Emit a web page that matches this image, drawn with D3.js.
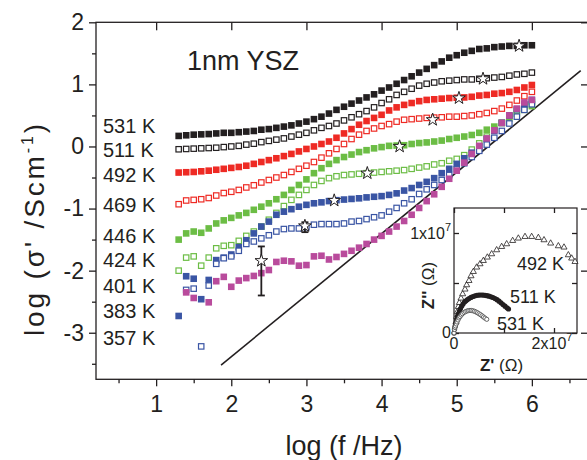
<!DOCTYPE html>
<html><head><meta charset="utf-8">
<script src="https://cdn.jsdelivr.net/npm/d3@7"></script>
<style>
body{margin:0;background:#fff}
text{font-family:"Liberation Sans",Arial,Helvetica,sans-serif;fill:#231f20}
</style>
</head><body><svg id="c" width="587" height="460"></svg>
<script>
// ---------- DATA ----------
const logF = [1.3,1.4,1.5,1.6,1.7,1.8,1.9,2.0,2.1,2.2,2.3,2.4,2.5,2.6,2.7,2.8,2.9,3.0,3.1,3.2,3.3,3.4,3.5,3.6,3.7,3.8,3.9,4.0,
              4.1,4.2,4.3,4.4,4.5,4.6,4.7,4.8,4.9,5.0,5.1,5.2,5.3,5.4,5.5,5.6,5.7,5.8,5.9,6.0];
const temps = ["531 K","511 K","492 K","469 K","446 K","424 K","401 K","383 K","357 K"];
const s531 = [0.17,0.18,0.19,0.195,0.20,0.21,0.22,0.22,0.23,0.24,0.25,0.27,0.28,0.30,0.32,0.34,0.37,0.40,0.44,0.48,0.53,0.59,0.64,0.69,0.74,0.79,0.84,0.90,
              0.95,1.01,1.07,1.13,1.19,1.25,1.31,1.37,1.43,1.47,1.51,1.54,1.57,1.58,1.60,1.61,1.62,1.62,1.63,1.63];
const s511 = [-0.045,-0.04,-0.035,-0.03,-0.025,-0.02,-0.01,0.0,0.01,0.03,0.045,0.07,0.09,0.11,0.13,0.16,0.19,0.22,0.26,0.30,0.33,0.37,0.42,0.47,0.52,0.57,0.63,0.70,
              0.76,0.83,0.88,0.93,0.98,1.01,1.03,1.05,1.06,1.07,1.08,1.08,1.09,1.10,1.11,1.12,1.14,1.16,1.17,1.19];
const s492 = [-0.42,-0.415,-0.41,-0.40,-0.39,-0.375,-0.36,-0.345,-0.33,-0.31,-0.28,-0.25,-0.22,-0.19,-0.155,-0.12,-0.08,-0.04,0.0,0.04,0.08,0.14,0.21,0.28,0.35,0.41,0.46,0.51,
              0.58,0.63,0.67,0.70,0.73,0.75,0.76,0.77,0.78,0.785,0.79,0.80,0.82,0.83,0.85,0.86,0.88,0.91,0.95,0.99];
const s469 = [-0.93,-0.87,-0.86,-0.85,-0.83,-0.79,-0.75,-0.73,-0.70,-0.66,-0.625,-0.58,-0.54,-0.50,-0.46,-0.41,-0.36,-0.31,-0.25,-0.18,-0.11,-0.04,0.04,0.12,0.19,0.25,0.29,0.33,
              0.36,0.40,0.43,0.44,0.45,0.46,0.465,0.47,0.48,0.48,0.49,0.50,0.52,0.54,0.57,0.61,0.67,0.74,0.81,0.88];
const s446 = [-1.50,-1.40,-1.37,-1.39,-1.32,-1.24,-1.19,-1.15,-1.11,-1.07,-1.02,-0.97,-0.915,-0.85,-0.78,-0.70,-0.62,-0.53,-0.43,-0.35,-0.28,-0.22,-0.17,-0.13,-0.09,-0.06,-0.03,-0.01,
              0.01,0.015,0.02,0.04,0.055,0.065,0.08,0.095,0.12,0.14,0.16,0.185,0.22,0.27,0.32,0.38,0.45,0.53,0.59,0.65];
const s424 = [-2.0,-1.79,-1.77,-1.92,-1.79,-1.64,-1.60,-1.59,-1.52,-1.44,-1.37,-1.29,-1.18,-1.07,-0.96,-0.86,-0.78,-0.70,-0.62,-0.555,-0.51,-0.48,-0.46,-0.45,-0.44,-0.43,-0.42,-0.41,
              -0.40,-0.39,-0.38,-0.36,-0.34,-0.32,-0.29,-0.27,-0.23,-0.20,-0.14,-0.05,0.05,0.16,0.27,0.38,0.49,0.58,0.66,0.72];
const s401 = [-2.73,-2.09,-2.13,-2.46,-2.15,-1.83,-1.79,-1.74,-1.62,-1.51,-1.40,-1.29,-1.21,-1.10,-1.05,-1.01,-0.97,-0.94,-0.915,-0.90,-0.88,-0.865,-0.855,-0.845,-0.835,-0.82,-0.81,-0.80,
              -0.78,-0.755,-0.71,-0.67,-0.62,-0.57,-0.51,-0.43,-0.36,-0.28,-0.19,-0.10,0.0,0.12,0.25,0.38,0.50,0.60,0.68,0.75];
const s383 = [null,-2.31,-2.29,-3.22,-2.24,-1.89,-1.80,-1.77,-1.68,-1.57,-1.53,-1.48,-1.43,-1.37,-1.33,-1.32,-1.32,-1.30,-1.26,-1.25,-1.25,-1.25,-1.24,-1.21,-1.20,-1.17,-1.14,-1.11,
              -1.05,-0.99,-0.915,-0.85,-0.765,-0.69,-0.62,-0.54,-0.46,-0.37,-0.27,-0.17,-0.07,0.03,0.14,0.25,0.37,0.48,0.59,0.68];
const s357 = [null,-2.35,-2.44,null,-2.51,-2.17,-2.10,-2.26,-2.16,-2.12,-2.085,-2.04,-1.99,-1.86,-1.84,-1.85,-1.92,-1.91,-1.77,-1.76,-1.82,-1.78,-1.73,-1.68,-1.63,-1.57,-1.50,-1.44,
              -1.37,-1.29,-1.20,-1.10,-0.99,-0.88,-0.77,-0.65,-0.52,-0.39,-0.26,-0.12,0.01,0.13,0.26,0.38,0.50,0.61,0.71,0.75];
const starX = [5.83,5.35,5.03,4.68,4.24,3.81,3.37,2.98,2.40];
const starY = [1.62,1.09,0.78,0.43,0.0,-0.43,-0.87,-1.28,-1.84];
const errX = [2.98,2.40];
const errLo = [-1.38,-2.40];
const errHi = [-1.22,-1.61];
const lineX = [1.864,6.65];
const lineY = [-3.52,1.22];
const xTicks = [1,2,3,4,5,6];
const xMinor = [0.5,1.5,2.5,3.5,4.5,5.5,6.5];
const yTicks = [-3,-2,-1,0,1,2];
const yMinor = [-3.5,-2.5,-1.5,-0.5,0.5,1.5];
// inset (units of 1e7 ohm)
const tri492X = [0.04,0.053,0.067,0.087,0.107,0.14,0.173,0.22,0.253,0.30,0.34,0.387,0.453,0.52,0.587,0.667,0.753,0.853,0.953,1.053,1.173,1.287,1.42,1.553,1.687,1.80,1.933,2.087,2.2,2.287,2.353,2.42];
const tri492Y = [0.11,0.163,0.213,0.263,0.303,0.347,0.39,0.437,0.48,0.523,0.57,0.613,0.657,0.69,0.723,0.757,0.79,0.83,0.863,0.89,0.923,0.947,0.963,0.963,0.953,0.93,0.897,0.87,0.857,0.78,0.747,0.713];
const c511X = [0.0,0.01,0.02,0.03,0.04,0.055,0.07,0.09,0.11,0.13,0.155,0.18,0.21,0.24,0.27,0.30,0.34,0.38,0.42,0.46,0.50,0.54,0.58,0.62,0.66,0.70,0.74,0.78,0.82,0.86,0.90,0.94,0.98,1.02,1.06,1.09];
const c511Y = [0.0,0.04,0.065,0.085,0.10,0.135,0.165,0.195,0.22,0.245,0.27,0.29,0.31,0.322,0.335,0.345,0.356,0.365,0.372,0.377,0.379,0.38,0.379,0.377,0.373,0.368,0.362,0.355,0.345,0.333,0.318,0.302,0.285,0.268,0.252,0.24];
const c531X = [0.0,0.01,0.02,0.03,0.045,0.06,0.08,0.10,0.12,0.145,0.17,0.20,0.23,0.26,0.29,0.32,0.35,0.38,0.41,0.44,0.47,0.50,0.53,0.56,0.59,0.62,0.655];
const c531Y = [0.0,0.035,0.055,0.07,0.09,0.11,0.13,0.15,0.165,0.18,0.193,0.205,0.214,0.22,0.224,0.226,0.225,0.222,0.217,0.21,0.202,0.193,0.183,0.172,0.16,0.149,0.137];
const insetXTicks = [0,1,2];
const insetYTicks = [0,0.5,1];

// ---------- STYLE / LAYOUT ----------
const C = {black:"#231f20", red:"#ee2a24", green:"#6cbd45", blue:"#3a55a4", mag:"#b94b9c"};
const seriesDefs = [
  {v:s531, c:C.black, filled:true},
  {v:s511, c:C.black, filled:false},
  {v:s492, c:C.red, filled:true},
  {v:s469, c:C.red, filled:false},
  {v:s446, c:C.green, filled:true},
  {v:s424, c:C.green, filled:false},
  {v:s401, c:C.blue, filled:true},
  {v:s383, c:C.blue, filled:false},
  {v:s357, c:C.mag, filled:true}
];
const L = 96, R = 592, T = 22.3, B = 379.3;
const svg = d3.select("#c");
const x = d3.scaleLinear().domain([0.2,6.8]).range([L,R]);
const y = d3.scaleLinear().domain([-3.75,2]).range([B,T]);

// frame
svg.append("rect").attr("x",L).attr("y",T).attr("width",R-L).attr("height",B-T)
  .attr("fill","none").attr("stroke",C.black).attr("stroke-width",1.3);

function styleAxis(g, fs){
  g.select(".domain").remove();
  g.selectAll(".tick line").attr("stroke",C.black).attr("stroke-width",1.3);
  g.selectAll(".tick text").attr("font-size",fs).attr("fill",C.black)
   .attr("font-family",'"Liberation Sans",Arial,sans-serif');
}
// bottom
svg.append("g").attr("transform",`translate(0,${B})`)
  .call(d3.axisBottom(x).tickValues(xTicks).tickSize(7).tickPadding(9).tickFormat(d=>String(d)))
  .call(g=>styleAxis(g,23));
svg.append("g").attr("transform",`translate(0,${B})`)
  .call(d3.axisBottom(x).tickValues(xMinor).tickSize(4).tickFormat(""))
  .call(g=>styleAxis(g,0));
// left
svg.append("g").attr("transform",`translate(${L},0)`)
  .call(d3.axisLeft(y).tickValues(yTicks).tickSize(7).tickPadding(5).tickFormat(d=>String(d)))
  .call(g=>styleAxis(g,23));
svg.append("g").attr("transform",`translate(${L},0)`)
  .call(d3.axisLeft(y).tickValues(yMinor).tickSize(4).tickFormat(""))
  .call(g=>styleAxis(g,0));
// top (inward)
svg.append("g").attr("transform",`translate(0,${T})`)
  .call(d3.axisBottom(x).tickValues(xTicks).tickSize(8).tickFormat(""))
  .call(g=>styleAxis(g,0));
// right (inward)
svg.append("g").attr("transform",`translate(${R},0)`)
  .call(d3.axisLeft(y).tickValues(yTicks).tickSize(11).tickFormat(""))
  .call(g=>styleAxis(g,0));

// diagonal line
svg.append("line").attr("x1",x(lineX[0])).attr("y1",y(lineY[0]))
  .attr("x2",x(lineX[1])).attr("y2",y(lineY[1]))
  .attr("stroke",C.black).attr("stroke-width",1.6);

// series
const S = 6.6;
seriesDefs.forEach(sd=>{
  const pts = logF.map((f,i)=>({f, v:sd.v[i]})).filter(d=>d.v!==null);
  svg.append("g").selectAll("rect").data(pts).join("rect")
    .attr("x",d=>x(d.f)-S/2+(sd.filled?0:0.6)).attr("y",d=>y(d.v)-S/2+(sd.filled?0:0.6))
    .attr("width",sd.filled?S:S-1.2).attr("height",sd.filled?S:S-1.2)
    .attr("fill",sd.filled?sd.c:"#fff").attr("stroke",sd.filled?"none":sd.c)
    .attr("stroke-width",1.2);
});

// error bars
errX.forEach((ex,i)=>{
  const g = svg.append("g").attr("stroke",C.black).attr("stroke-width",1.8);
  g.append("line").attr("x1",x(ex)).attr("x2",x(ex)).attr("y1",y(errLo[i])).attr("y2",y(errHi[i]));
  [errLo[i],errHi[i]].forEach(v=>g.append("line").attr("x1",x(ex)-3.5).attr("x2",x(ex)+3.5).attr("y1",y(v)).attr("y2",y(v)));
});
// stars
svg.append("g").selectAll("path").data(starX.map((sx,i)=>[sx,starY[i]])).join("path")
  .attr("d",d3.symbol(d3.symbolStar,50))
  .attr("transform",d=>`translate(${x(d[0])},${y(d[1])})`)
  .attr("fill","#fff").attr("stroke",C.black).attr("stroke-width",1);

// texts
svg.append("text").attr("x",187).attr("y",70).attr("font-size",27).text("1nm YSZ");
const labelBase = [133,157,182,212,243,267,293,318,345];
temps.forEach((t,i)=>svg.append("text").attr("x",103).attr("y",labelBase[i]).attr("font-size",20).text(t));
svg.append("text").attr("x",(L+R)/2).attr("y",455).attr("text-anchor","middle").attr("font-size",27).text("log (f /Hz)");
const yt = svg.append("text").attr("transform","translate(44,230) rotate(-90)").attr("text-anchor","middle")
  .attr("font-size",28).attr("textLength",212).attr("lengthAdjust","spacing");
yt.append("tspan").text("log (σ' /Scm");
yt.append("tspan").attr("font-size",16).attr("dy",-11).text("-1");
yt.append("tspan").attr("dy",11).text(")");

// ---------- INSET ----------
const IL=454, IR=577, IT=208, IB=333;
const ix = d3.scaleLinear().domain([0,2.46]).range([IL,IR]);
const iy = d3.scaleLinear().domain([0,1.25]).range([IB,IT]);
const ins = svg.append("g");
ins.append("rect").attr("x",IL).attr("y",IT).attr("width",IR-IL).attr("height",IB-IT)
  .attr("fill","#fff").attr("stroke",C.black).attr("stroke-width",1.2);
ins.append("g").attr("transform",`translate(0,${IB})`).call(d3.axisTop(ix).tickValues(insetXTicks).tickSize(5).tickFormat("")).call(g=>styleAxis(g,0));
ins.append("g").attr("transform",`translate(0,${IT})`).call(d3.axisBottom(ix).tickValues(insetXTicks).tickSize(5).tickFormat("")).call(g=>styleAxis(g,0));
ins.append("g").attr("transform",`translate(${IL},0)`).call(d3.axisRight(iy).tickValues(insetYTicks).tickSize(5).tickFormat("")).call(g=>styleAxis(g,0));
ins.append("g").attr("transform",`translate(${IR},0)`).call(d3.axisLeft(iy).tickValues(insetYTicks).tickSize(5).tickFormat("")).call(g=>styleAxis(g,0));
// inset tick labels
ins.append("text").attr("x",IL-3).attr("y",iy(0)+5).attr("text-anchor","end").attr("font-size",16).text("0");
const t1 = ins.append("text").attr("x",IL-3).attr("y",iy(1)+6).attr("text-anchor","end").attr("font-size",16);
t1.append("tspan").text("1x10"); t1.append("tspan").attr("font-size",11).attr("dy",-8).text("7");
ins.append("text").attr("x",ix(0)).attr("y",IB+16).attr("text-anchor","middle").attr("font-size",16).text("0");
const t2 = ins.append("text").attr("x",ix(2)-2).attr("y",IB+16).attr("text-anchor","middle").attr("font-size",16);
t2.append("tspan").text("2x10"); t2.append("tspan").attr("font-size",11).attr("dy",-8).text("7");
// inset axis titles
const ixt = ins.append("text").attr("x",(IL+IR)/2-14).attr("y",371).attr("text-anchor","middle").attr("font-size",17);
ixt.append("tspan").attr("font-weight","bold").text("Z'"); ixt.append("tspan").text(" (Ω)");
const iyt = ins.append("text").attr("transform",`translate(434,${(IT+IB)/2+15}) rotate(-90)`).attr("text-anchor","middle").attr("font-size",17);
iyt.append("tspan").attr("font-weight","bold").text("Z''"); iyt.append("tspan").text(" (Ω)");
// inset data
ins.append("g").selectAll("path").data(tri492X.map((v,i)=>[v,tri492Y[i]])).join("path")
  .attr("d",d3.symbol(d3.symbolTriangle,16))
  .attr("transform",d=>`translate(${ix(d[0])},${iy(d[1])})`)
  .attr("fill","#fff").attr("stroke",C.black).attr("stroke-width",0.8);
ins.append("g").selectAll("circle").data(c511X.map((v,i)=>[v,c511Y[i]])).join("circle")
  .attr("cx",d=>ix(d[0])).attr("cy",d=>iy(d[1])).attr("r",2.6).attr("fill",C.black);
ins.append("g").selectAll("circle").data(c531X.map((v,i)=>[v,c531Y[i]])).join("circle")
  .attr("cx",d=>ix(d[0])).attr("cy",d=>iy(d[1])).attr("r",2.1).attr("fill","#fff").attr("stroke","#555").attr("stroke-width",0.9);
// inset labels
ins.append("text").attr("x",517).attr("y",270).attr("font-size",18).text("492 K");
ins.append("text").attr("x",510).attr("y",303).attr("font-size",18).text("511 K");
ins.append("text").attr("x",497).attr("y",330).attr("font-size",18).text("531 K");
</script></body></html>
